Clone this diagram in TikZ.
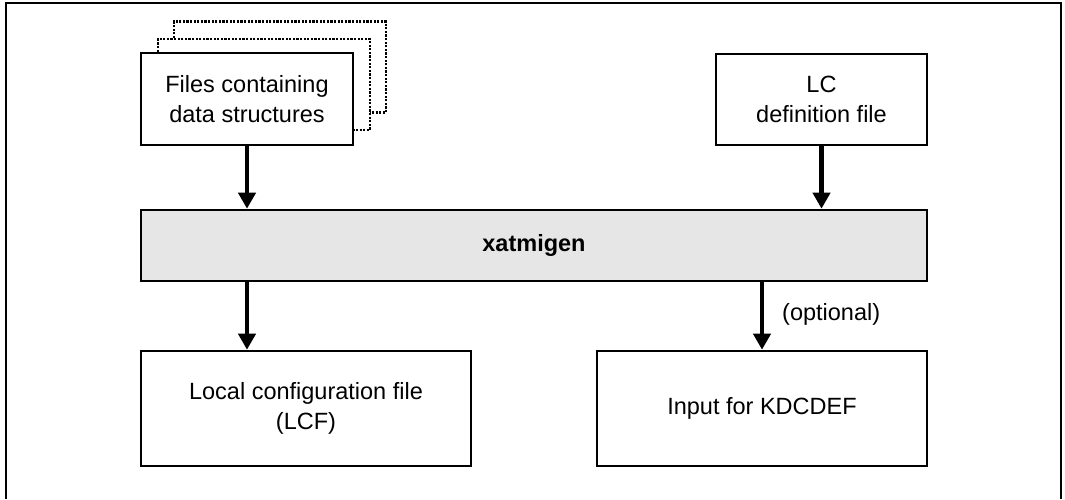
\documentclass[tikz,border=0pt]{standalone}
\usepackage{fontspec}
\setmainfont{Liberation Sans}
\usetikzlibrary{arrows.meta}
\definecolor{bargray}{HTML}{E6E6E6}
\begin{document}
\begin{tikzpicture}[x=1pt,y=-1pt,
  every node/.style={font=\fontsize{23.5}{30}\selectfont},
  box/.style={draw=black, line width=2.6pt, fill=white, rectangle, inner sep=0pt, align=center},
  stackbox/.style={draw=black, line width=2.6pt, fill=white, rectangle, inner sep=0pt, dash pattern=on 2.2pt off 1.4pt, minimum width=212pt, minimum height=91pt},
  arr/.style={line width=4.6pt, -{Triangle[length=16pt,width=17pt]}},
  frame/.style={line width=2pt}
]
\useasboundingbox (0,0) rectangle (1065,499);
\draw[frame] (6,499) -- (6,3) -- (1061,3) -- (1061,499);

\node[stackbox] (back) at (280,67) {};
\node[stackbox] (mid) at (264,84.5) {};
\node[box, minimum width=212pt, minimum height=92pt] (files) at (247,99) {Files containing\\data structures};
\node[box, minimum width=211pt, minimum height=91pt] (lc) at (821.5,99.5) {LC\\definition file};
\node[box, fill=bargray, minimum width=786pt, minimum height=71pt, font=\fontsize{23.5}{30}\selectfont\bfseries] (xat) at (534,245.5) {xatmigen};
\node[box, minimum width=330pt, minimum height=115pt] (lcf) at (306,408.5) {Local configuration file\\(LCF)};
\node[box, minimum width=330pt, minimum height=115pt] (kdc) at (762,408.5) {Input for KDCDEF};

\draw[arr] (files.south) -- (xat.north -| files.south);
\draw[arr] (lc.south) -- (xat.north -| lc.south);
\draw[arr] (xat.south -| files.south) -- (lcf.north -| files.south);
\draw[arr] (xat.south -| kdc.north) -- (kdc.north);
\node[anchor=west, inner sep=0pt] (opt) at (782,314) {(optional)};
\end{tikzpicture}
\end{document}
